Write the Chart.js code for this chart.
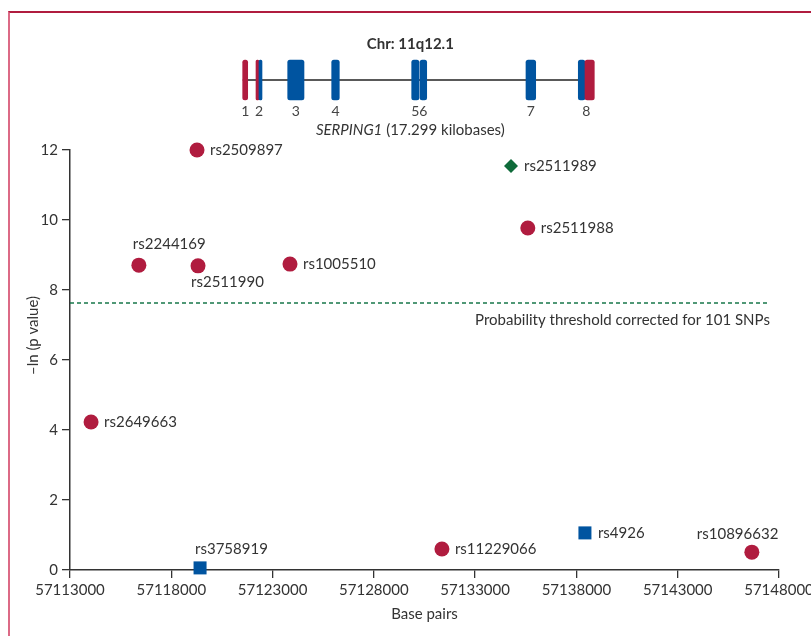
<!DOCTYPE html>
<html>
<head>
<meta charset="utf-8">
<script src="https://cdn.jsdelivr.net/npm/chart.js@4"></script>
<style>
    body { margin: 0; background: #fff; }
    .frame {
        position: absolute; left: 8px; top: 11px; right: 0; bottom: 0;
        border-top: 2px solid #b01c3f;
        border-left: 2px solid #dc6a86;
    }
    #snpChart { position: absolute; left: 0; top: 0; }
</style>
</head>
<body>
<div class="frame"></div>
<canvas id="snpChart" width="811" height="636"></canvas>
<script>
// SNPs: base-pair position and -ln(p)
const snpNames = ['rs2509897', 'rs2511989', 'rs2511988', 'rs2244169', 'rs2511990', 'rs1005510',
    'rs2649663', 'rs3758919', 'rs11229066', 'rs4926', 'rs10896632'];
const snpPos = [57119270, 57134770, 57135600, 57116400, 57119320, 57123860,
    57114040, 57119420, 57131360, 57138420, 57146660];
const snpLogP = [12.0, 11.54, 9.77, 8.71, 8.69, 8.74, 4.23, 0.06, 0.60, 1.06, 0.51];
const snpKind = ['circle', 'diamond', 'circle', 'circle', 'circle', 'circle',
    'circle', 'square', 'circle', 'square', 'circle'];

const threshold = 7.63;
const thresholdEnd = 57147550;
const xTicksMin = 57113000;
const xTicksMax = 57148000;

// SERPING1 gene: exon segments (bp), exon number, region type
const geneStart = 57121525;
const geneEnd = 57138824;
const exonNo = [1, 2, 2, 3, 4, 5, 6, 7, 8, 8];
const exonStart = [57121525, 57122182, 57122330, 57123747, 57125919, 57129868, 57130278, 57135510, 57138092, 57138423];
const exonEnd = [57121772, 57122330, 57122478, 57124551, 57126294, 57130228, 57130609, 57135989, 57138423, 57138882];
const exonType = ['utr', 'utr', 'cds', 'cds', 'cds', 'cds', 'cds', 'cds', 'cds', 'utr'];

// label placement (style only)
const labelPlace = {
    rs2244169: { dx: -6, dy: -21, align: 'left' },
    rs2511990: { dx: -7, dy: 16, align: 'left' },
    rs3758919: { dx: -5, dy: -19, align: 'left' },
    rs10896632: { dx: -55, dy: -18, align: 'left' }
};

const RED = '#b01c3f';
const BLUE = '#0054a0';
const GREEN = '#0f6b3a';
const TEXT = '#333';
const FONT = 'Lato, "Open Sans", sans-serif';

function pointsOf(kind) {
    const pts = [];
    snpNames.forEach((n, i) => {
        if (snpKind[i] === kind) pts.push({ x: snpPos[i], y: snpLogP[i], name: n });
    });
    return pts;
}

// no extra label padding around the axes, keep the plot box fixed
function noPad(s) {
    s.paddingLeft = 0;
    s.paddingRight = 0;
    s.paddingTop = 0;
    s.paddingBottom = 0;
}

const labelPlugin = {
    id: 'labels',
    afterDatasetsDraw(chart) {
        const ctx = chart.ctx;
        const xs = chart.scales.x;
        const ys = chart.scales.y;
        const gs = chart.scales.yGene;
        ctx.save();
        ctx.fillStyle = TEXT;
        ctx.textBaseline = 'middle';
        ctx.font = '15px ' + FONT;

        // SNP names
        snpNames.forEach((n, i) => {
            const px = xs.getPixelForValue(snpPos[i]);
            const py = ys.getPixelForValue(snpLogP[i]);
            const p = labelPlace[n] || { dx: 13, dy: 0, align: 'left' };
            ctx.textAlign = p.align;
            ctx.fillText(n, px + p.dx, py + p.dy);
        });

        // threshold note
        ctx.textAlign = 'right';
        ctx.fillText('Probability threshold corrected for 101 SNPs',
            xs.getPixelForValue(thresholdEnd), ys.getPixelForValue(threshold) + 17);

        // y title
        ctx.save();
        ctx.translate(33, ys.getPixelForValue(6.7));
        ctx.rotate(-Math.PI / 2);
        ctx.textAlign = 'center';
        ctx.fillText('\u2013ln (p value)', 0, 0);
        ctx.restore();

        // gene track texts
        const mid = xs.getPixelForValue(57129800);
        ctx.textAlign = 'center';
        ctx.font = 'bold 15px ' + FONT;
        ctx.fillText('Chr: 11q12.1', mid, gs.getPixelForValue(14));

        ctx.font = '14px ' + FONT;
        ctx.fillStyle = '#444';
        const seen = {};
        exonNo.forEach((no, i) => {
            if (seen[no]) return;
            let s = exonStart[i], e = exonEnd[i];
            exonNo.forEach((m, j) => { if (m === no) { s = Math.min(s, exonStart[j]); e = Math.max(e, exonEnd[j]); } });
            seen[no] = true;
            ctx.fillText(String(no), xs.getPixelForValue((s + e) / 2), gs.getPixelForValue(81));
        });

        ctx.fillStyle = TEXT;
        const a = 'SERPING1', b = ' (17.299 kilobases)';
        ctx.font = 'italic 15px ' + FONT;
        const wa = ctx.measureText(a).width;
        ctx.font = '15px ' + FONT;
        const wb = ctx.measureText(b).width;
        const left = mid - (wa + wb) / 2;
        const gy = gs.getPixelForValue(100);
        ctx.textAlign = 'left';
        ctx.font = 'italic 15px ' + FONT;
        ctx.fillText(a, left, gy);
        ctx.font = '15px ' + FONT;
        ctx.fillText(b, left + wa, gy);
        ctx.restore();
    }
};

document.addEventListener('DOMContentLoaded', () => {
    const ctx = document.getElementById('snpChart');

    new Chart(ctx, {
        type: 'scatter',
        data: {
            datasets: [
                {
                    label: 'red',
                    data: pointsOf('circle'),
                    pointStyle: 'circle',
                    pointRadius: 7.5,
                    backgroundColor: RED,
                    borderWidth: 0,
                    clip: false
                },
                {
                    label: 'blue',
                    data: pointsOf('square'),
                    pointStyle: 'rect',
                    pointRadius: 9.2,
                    backgroundColor: BLUE,
                    borderWidth: 0,
                    clip: false
                },
                {
                    label: 'green',
                    data: pointsOf('diamond'),
                    pointStyle: 'rectRot',
                    pointRadius: 7,
                    backgroundColor: GREEN,
                    borderWidth: 0,
                    clip: false
                },
                {
                    type: 'line',
                    label: 'threshold',
                    data: [{ x: xTicksMin, y: threshold }, { x: thresholdEnd, y: threshold }],
                    borderColor: '#17774a',
                    borderWidth: 1.4,
                    borderDash: [4, 3],
                    pointRadius: 0
                },
                {
                    type: 'bar',
                    label: 'exons',
                    indexAxis: 'y',
                    xAxisID: 'x',
                    yAxisID: 'yGene',
                    data: exonStart.map((s, i) => ({ x: [s, exonEnd[i]], y: 50 })),
                    backgroundColor: exonType.map(t => t === 'utr' ? RED : BLUE),
                    barThickness: 40,
                    borderRadius: 2.5,
                    borderSkipped: false,
                    grouped: false,
                    clip: false
                },
                {
                    type: 'line',
                    label: 'gene',
                    xAxisID: 'x',
                    yAxisID: 'yGene',
                    data: [{ x: geneStart, y: 50 }, { x: geneEnd, y: 50 }],
                    borderColor: '#222',
                    borderWidth: 1.5,
                    pointRadius: 0
                }
            ]
        },
        options: {
            responsive: false,
            animation: false,
            layout: { padding: { top: 30, right: 32, left: 0, bottom: 0 } },
            plugins: {
                legend: { display: false },
                tooltip: { enabled: false }
            },
            scales: {
                x: {
                    type: 'linear',
                    position: 'bottom',
                    min: xTicksMin,
                    max: xTicksMax,
                    offset: false,
                    afterFit: s => { s.height = 66; noPad(s); },
                    ticks: {
                        stepSize: 5000,
                        callback: v => String(v),
                        color: TEXT,
                        font: { family: FONT, size: 15 },
                        padding: 3,
                        maxRotation: 0
                    },
                    grid: { drawOnChartArea: false, tickLength: 8, color: '#333', lineWidth: 1.3 },
                    border: { color: '#333', width: 1.5 },
                    title: {
                        display: true,
                        text: 'Base pairs',
                        color: TEXT,
                        font: { family: FONT, size: 15 },
                        padding: { top: 0, bottom: 13 }
                    }
                },
                y: {
                    type: 'linear',
                    position: 'left',
                    stack: 'track',
                    stackWeight: 420,
                    min: 0,
                    max: 12,
                    offset: false,
                    afterFit: s => { s.width = 70; noPad(s); },
                    ticks: {
                        stepSize: 2,
                        color: TEXT,
                        font: { family: FONT, size: 15 },
                        padding: 4
                    },
                    grid: { drawOnChartArea: false, tickLength: 8, color: '#333', lineWidth: 1.3 },
                    border: { color: '#333', width: 1.5 }
                },
                yGene: {
                    type: 'linear',
                    position: 'left',
                    stack: 'track',
                    stackWeight: 120,
                    min: 0,
                    max: 120,
                    reverse: true,
                    offset: false,
                    afterFit: s => { s.width = 70; noPad(s); },
                    ticks: { display: false },
                    grid: { display: false, offset: false },
                    border: { display: false }
                }
            }
        },
        plugins: [labelPlugin]
    });
});
</script>
</body>
</html>
